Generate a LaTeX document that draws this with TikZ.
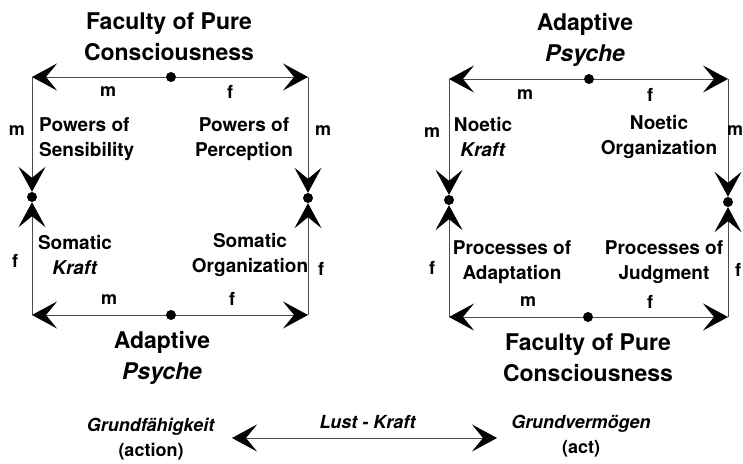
\documentclass[tikz,border=0pt]{standalone}
\usepackage{fontspec}
\setmainfont{TeX Gyre Heros}
\usetikzlibrary{arrows.meta}
\begin{document}
\begin{tikzpicture}[x=1pt,y=-1pt,
  line/.style={draw=black!70, line width=0.9pt},
  arr/.style={line, -{Stealth[length=25pt,width=27pt,inset=11pt,color=black]}},
  dot/.style={circle, fill=black, inner sep=0pt, minimum size=10pt},
  big/.style={font=\fontsize{23}{31}\selectfont\bfseries, align=center, inner sep=0pt},
  txt/.style={font=\fontsize{19}{24.5}\selectfont\bfseries, inner sep=0pt},
  lbl/.style={font=\fontsize{18}{20}\selectfont\bfseries, inner sep=0pt},
  bot/.style={font=\fontsize{18}{25}\selectfont\bfseries, align=center, inner sep=0pt}]
\useasboundingbox (0,0) rectangle (743,463);
\fill[white] (0,0) rectangle (743,463);

% ---------- left square ----------
\coordinate (Ltl) at (32,77);
\coordinate (Ltr) at (308,77);
\coordinate (Lbl) at (32,315);
\coordinate (Lbr) at (308,315);
\node[dot] (Lt) at (171,77) {};
\node[dot] (Lb) at (171,315) {};
\node[dot] (Ll) at (32,197) {};
\node[dot] (Lr) at (308,198) {};
\draw[arr] (Lt) -- (Ltl);
\draw[arr] (Lt) -- (Ltr);
\draw[arr] (Lb) -- (Lbl);
\draw[arr] (Lb) -- (Lbr);
\draw[arr] (Ltl) -- (Ll);
\draw[arr] (Lbl) -- (Ll);
\draw[arr] (Ltr) -- (Lr);
\draw[arr] (Lbr) -- (Lr);

\node[big] (LT) at (169,37) {Faculty of Pure\\Consciousness};
\node[big] (LB) at (162,358) {Adaptive\\\textit{Psyche}};
\node[lbl] (Lm1) at (108,92) {m};
\node[lbl] (Lf1) at (230,92) {f};
\node[lbl] (Lm2) at (17,131) {m};
\node[lbl] (Lm3) at (323,131) {m};
\node[lbl] (Lf2) at (15,261) {f};
\node[lbl] (Lf3) at (321,269) {f};
\node[lbl] (Lm4) at (109,300) {m};
\node[lbl] (Lf4) at (232,299) {f};
\node[txt, align=left, anchor=west] (L1) at (39,139) {Powers of\\Sensibility};
\node[txt, align=center] (L2) at (244,139) {Powers of\\Perception};
\node[txt, align=center] (L3) at (75,255) {Somatic\\\textit{Kraft}};
\node[txt, align=center] (L4) at (250,255) {Somatic\\Organization};

% ---------- right square ----------
\coordinate (Rtl) at (449,79);
\coordinate (Rtr) at (728,79);
\coordinate (Rbl) at (449,317);
\coordinate (Rbr) at (728,317);
\node[dot] (Rt) at (589,79) {};
\node[dot] (Rb) at (588,317) {};
\node[dot] (Rl) at (449,200) {};
\node[dot] (Rr) at (728,202) {};
\draw[arr] (Rt) -- (Rtl);
\draw[arr] (Rt) -- (Rtr);
\draw[arr] (Rb) -- (Rbl);
\draw[arr] (Rb) -- (Rbr);
\draw[arr] (Rtl) -- (Rl);
\draw[arr] (Rbl) -- (Rl);
\draw[arr] (Rtr) -- (Rr);
\draw[arr] (Rbr) -- (Rr);

\node[big] (RT) at (585,40) {Adaptive\\\textit{Psyche}};
\node[big] (RB) at (588,358) {Faculty of Pure\\Consciousness};
\node[lbl] (Rm1) at (525,95) {m};
\node[lbl] (Rf1) at (650,95) {f};
\node[lbl] (Rm2) at (432,133) {m};
\node[lbl] (Rm3) at (735,131) {m};
\node[lbl] (Rf2) at (432,268) {f};
\node[lbl] (Rf3) at (738,270) {f};
\node[lbl] (Rm4) at (528,302) {m};
\node[lbl] (Rf4) at (650,302) {f};
\node[txt, align=center] (R1) at (483,137) {Noetic\\\textit{Kraft}};
\node[txt, align=center] (R2) at (659,137) {Noetic\\Organization};
\node[txt, align=center] (R3) at (512,262) {Processes of\\Adaptation};
\node[txt, align=center] (R4) at (664,262) {Processes of\\Judgment};

% ---------- bottom ----------
\node[bot] (G1) at (151,439) {\textit{Grundfähigkeit}\\(action)};
\node[bot] (G2) at (581,436) {\textit{Grundvermögen}\\(act)};
\coordinate (Ba) at (232,438);
\coordinate (Bb) at (497,438);
\coordinate (Bm) at (365,438);
\draw[arr] (Bm) -- (Ba);
\draw[arr] (Bm) -- (Bb);
\node[bot] (LK) at (368,422) {\textit{Lust - Kraft}};
\end{tikzpicture}
\end{document}
